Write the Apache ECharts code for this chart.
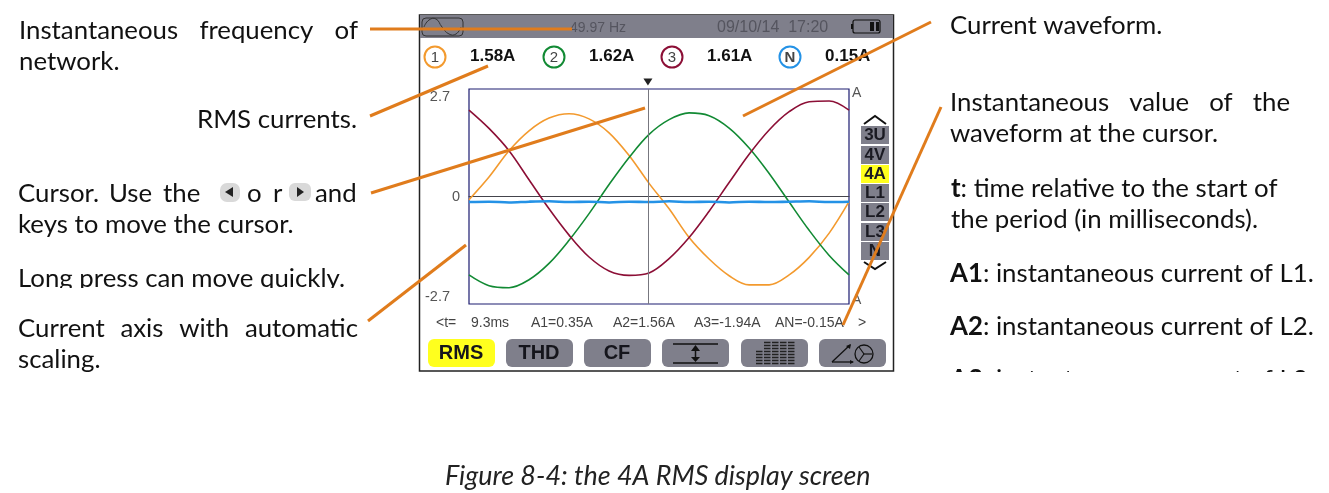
<!DOCTYPE html>
<html>
<head>
<meta charset="utf-8">
<style>html,body{margin:0;padding:0;background:#fff}#chart{width:1329px;height:493px}</style>
<script src="https://cdn.jsdelivr.net/npm/echarts@6/dist/echarts.min.js"></script>
</head>
<body>
<div id="chart"></div>
<script>
var times = [0, 1.04, 2.08, 3.12, 4.16, 5.2, 6.24, 7.28, 8.32, 9.36, 10.4, 11.44, 12.48, 13.52, 14.56, 15.6, 16.64, 17.68, 18.72, 19.75];
var currentL1 = [-0.08, 0.49, 1.15, 1.65, 1.97, 2.08, 1.95, 1.6, 1.03, 0.33, -0.31, -1.03, -1.57, -1.99, -2.22, -2.22, -1.97, -1.53, -0.92, -0.13];
var currentL2 = [-1.97, -2.24, -2.29, -2.09, -1.68, -1.1, -0.43, 0.3, 0.98, 1.56, 1.93, 2.1, 2.03, 1.72, 1.22, 0.58, -0.14, -0.85, -1.48, -1.97];
var currentL3 = [2.17, 1.71, 1.15, 0.42, -0.31, -0.97, -1.52, -1.87, -1.98, -1.92, -1.56, -1.03, -0.37, 0.35, 1.06, 1.67, 2.13, 2.38, 2.4, 2.17];
var currentN = [-0.14, -0.13, -0.15, -0.13, -0.12, -0.14, -0.13, -0.15, -0.13, -0.14, -0.12, -0.14, -0.13, -0.15, -0.13, -0.14, -0.13, -0.12, -0.14, -0.13];

var cursorTime = 9.3;
var rmsLabels = ["1", "2", "3", "N"];
var rmsValues = ["1.58A", "1.62A", "1.61A", "0.15A"];
var rmsColors = ["#f39a2e", "#128a34", "#8c0f36", "#2492e6"];
var cursorTexts = ["<t=", "9.3ms", "A1=0.35A", "A2=1.56A", "A3=-1.94A", "AN=-0.15A", ">"];
var sideLabels = ["3U", "4V", "4A", "L1", "L2", "L3", "N"];
var buttonLabels = ["RMS", "THD", "CF", "", "", ""];

var SCREEN_FONT = '"Liberation Sans", Arial, sans-serif';
var DOC_FONT = 'Lato, "Noto Sans", sans-serif';
var DOC_SIZE = 25.8;
var LEADER = "#e07c1c";
var GREY = "#7f7f8b";

var els = [];

function txt(x, y, s, o) {
  o = o || {};
  els.push({
    type: "text", x: x, y: o.family ? y : y + 1, z: o.z || 50,
    style: {
      text: s, fill: o.color || "#111", align: o.align || "left", verticalAlign: "middle",
      font: (o.style || "") + " " + (o.weight || "") + " " + (o.size || DOC_SIZE) + "px " + (o.family || DOC_FONT),
      rich: o.rich
    }
  });
}
function seg(x1, y1, x2, y2, color, width, z) {
  els.push({
    type: "line", z: z || 50, shape: { x1: x1, y1: y1, x2: x2, y2: y2 },
    style: { stroke: color, lineWidth: width }
  });
}
function box(x, y, w, h, fill, r, z) {
  els.push({
    type: "rect", z: z || 5, shape: { x: x, y: y, width: w, height: h, r: r || 0 },
    style: { fill: fill }
  });
}
function poly(points, fill, z) {
  els.push({ type: "polygon", z: z || 50, shape: { points: points }, style: { fill: fill } });
}
function chevron(cx, y, dy) {
  els.push({
    type: "polyline", z: 50, shape: { points: [[cx - 11, y], [cx, y + dy], [cx + 11, y]] },
    style: { stroke: "#111", lineWidth: 2, fill: "none" }
  });
}
// spread the words of a justified line between x0 and x1
function justify(words, x0, x1, y) {
  var ctx = document.createElement("canvas").getContext("2d");
  ctx.font = DOC_SIZE + "px Lato";
  var total = 0;
  words.forEach(function (w) { total += ctx.measureText(w).width; });
  var gap = (x1 - x0 - total) / (words.length - 1);
  var x = x0;
  words.forEach(function (w) {
    txt(x, y, w);
    x += ctx.measureText(w).width + gap;
  });
}

// instrument frame
els.push({
  type: "rect", z: 4, shape: { x: 419.5, y: 15, width: 474, height: 356 },
  style: { fill: "none", stroke: "#222", lineWidth: 1.5 }
});
box(420, 15, 473, 23, GREY);
els.push({
  type: "rect", z: 6, shape: { x: 422, y: 18, width: 41, height: 18, r: 4 },
  style: { fill: "none", stroke: "#333", lineWidth: 1 }
});
els.push({
  type: "polyline", z: 6,
  shape: { points: [[424, 27], [429, 20], [436, 19], [442, 27], [449, 34], [456, 34], [461, 27]], smooth: 0.5 },
  style: { fill: "none", stroke: "#333", lineWidth: 1 }
});
txt(570, 28, "49.97 Hz", { size: 14, color: "#55555f", family: SCREEN_FONT });
txt(717, 28, "09/10/14  17:20", { size: 16, color: "#55555f", family: SCREEN_FONT });
els.push({
  type: "rect", z: 6, shape: { x: 853, y: 20, width: 27, height: 13, r: 2 },
  style: { fill: "none", stroke: "#111", lineWidth: 1.2 }
});
box(851, 24, 2, 5, "#111", 0, 6);
box(870, 22, 4, 9, "#111", 0, 6);
box(876, 22, 3, 9, "#111", 0, 6);

// RMS readout row
var rmsCircleX = [435, 554, 672, 790];
var rmsTextX = [470, 589, 707, 825];
rmsLabels.forEach(function (lab, i) {
  els.push({
    type: "circle", z: 6, shape: { cx: rmsCircleX[i], cy: 57, r: 10.5 },
    style: { fill: "none", stroke: rmsColors[i], lineWidth: 2 }
  });
  txt(rmsCircleX[i], 58, lab, { size: 15, color: "#444", family: SCREEN_FONT, align: "center", weight: i == 3 ? "bold" : "" });
  txt(rmsTextX[i], 56, rmsValues[i], { size: 17, weight: "bold", family: SCREEN_FONT });
});

txt(852, 93, "A", { size: 14, color: "#555", family: SCREEN_FONT });
txt(852, 300, "A", { size: 14, color: "#555", family: SCREEN_FONT });

// side menu
var sideY = [126, 146, 165, 184, 203, 223, 242];
sideLabels.forEach(function (lab, i) {
  var active = lab == "4A";
  box(861, sideY[i], 28, 18, active ? "#ffff1e" : GREY);
  txt(875, sideY[i] + 9.5, lab, { size: 17, weight: "bold", family: SCREEN_FONT, align: "center", color: "#1a1a22" });
});
chevron(875, 124, -8);
chevron(875, 262, 7);

// cursor readout row
var cursorX = [436, 471, 531, 613, 694, 775, 858];
cursorTexts.forEach(function (s, i) {
  txt(cursorX[i], 323, s, { size: 14, color: "#444", family: SCREEN_FONT });
});

// soft buttons
var buttonX = [428, 506, 584, 662, 741, 819];
buttonLabels.forEach(function (lab, i) {
  box(buttonX[i], 339, 67, 28, i == 0 ? "#ffff1e" : GREY, 6);
  if (lab) txt(buttonX[i] + 33, 353.5, lab, { size: 20, weight: "bold", family: SCREEN_FONT, align: "center", color: "#15151c" });
});
seg(673, 344, 718, 344, "#111", 1.5);
seg(673, 363, 718, 363, "#111", 1.5);
seg(695.5, 347, 695.5, 360, "#111", 1.5);
poly([[691, 351], [700, 351], [695.5, 345]], "#111");
poly([[691, 357], [700, 357], [695.5, 362]], "#111");
for (var row = 0; row < 8; row++) {
  var rowY = 342.5 + row * 3;
  for (var c = 0; c < 5; c++) {
    var dashX = 756 + c * 8;
    if (row < 3 && c == 0) continue;
    seg(dashX, rowY, dashX + 6.5, rowY, "#222", 1.5);
  }
}
seg(832, 362, 850, 345, "#111", 1.3);
seg(832, 362, 853, 362, "#111", 1.3);
poly([[846, 346], [851, 344], [850, 349]], "#111");
poly([[850, 360], [854, 362], [850, 364]], "#111");
els.push({
  type: "circle", z: 50, shape: { cx: 864, cy: 354, r: 9 },
  style: { fill: "none", stroke: "#111", lineWidth: 1.3 }
});
seg(864, 354, 872, 354, "#111", 1.2);
seg(864, 354, 859, 347, "#111", 1.2);
seg(864, 354, 859, 361, "#111", 1.2);

// left hand notes
justify(["Instantaneous", "frequency", "of"], 19, 358, 30);
txt(19, 61, "network.");
txt(197, 119, "RMS currents.");
txt(18, 193, "Cursor.");
txt(109, 193, "Use");
txt(163, 193, "the");
txt(247, 193, "o");
txt(273, 193, "r");
txt(315, 193, "and");
box(220, 183, 20, 19, "#d9d9d9", 7, 50);
poly([[225, 192], [233, 187], [233, 197]], "#222", 51);
box(289, 183, 22, 18, "#d9d9d9", 6, 50);
poly([[304, 192], [297, 187], [297, 197]], "#222", 51);
txt(18, 224, "keys to move the cursor.");
txt(18, 278, "Long press can move quickly.");
box(0, 288, 362, 12, "#fff", 0, 60);
justify(["Current", "axis", "with", "automatic"], 18, 358, 328);
txt(18, 359, "scaling.");

// right hand notes
var boldRich = { b: { fontWeight: "bold", fontSize: DOC_SIZE, fontFamily: "Lato", fill: "#111" } };
txt(950, 25, "Current waveform.");
justify(["Instantaneous", "value", "of", "the"], 950, 1290, 102);
txt(950, 133, "waveform at the cursor.");
txt(951, 188, "{b|t}: time relative to the start of", { rich: boldRich });
txt(951, 219, "the period (in milliseconds).");
txt(950, 273, "{b|A1}: instantaneous current of L1.", { rich: boldRich });
txt(950, 326, "{b|A2}: instantaneous current of L2.", { rich: boldRich });
txt(950, 379, "{b|A3}: instantaneous current of L3.", { rich: boldRich });
box(930, 372, 399, 30, "#fff", 0, 60);

txt(445, 475, "Figure 8-4: the 4A RMS display screen", { style: "italic", color: "#222", size: 26.9 });

// leader lines on top of everything
seg(370, 29, 572, 29, LEADER, 3, 80);
seg(370, 116, 488, 66, LEADER, 3, 80);
seg(371, 193, 645, 108, LEADER, 3, 80);
seg(368, 321, 466, 245, LEADER, 3, 80);
seg(931, 22, 743, 116, LEADER, 3, 80);
seg(941, 107, 843, 325, LEADER, 3, 80);

function toPairs(values) {
  return values.map(function (v, i) { return [times[i], v]; });
}
function wave(name, values, color, width) {
  return {
    name: name, type: "line", data: toPairs(values), smooth: 0.35, symbol: "none",
    lineStyle: { color: color, width: width }, silent: true, animation: false
  };
}

var chartDom = document.getElementById("chart");
var myChart = echarts.init(chartDom, null, { renderer: "canvas" });

var series = [
  wave("L1", currentL1, rmsColors[0], 1.6),
  wave("L2", currentL2, rmsColors[1], 1.6),
  wave("L3", currentL3, rmsColors[2], 1.6),
  wave("N", currentN, rmsColors[3], 2.6)
];
// cursor
series[0].clip = false;
series[0].markLine = {
  silent: true, symbol: "none", animation: false, label: { show: false },
  lineStyle: { color: "#77777f", type: "solid", width: 1 },
  data: [{ xAxis: cursorTime }]
};
series[0].markPoint = {
  silent: true, animation: false, symbol: "triangle", symbolSize: [9, 7], symbolRotate: 180,
  symbolOffset: [0, -7], itemStyle: { color: "#222" }, label: { show: false },
  data: [{ coord: [cursorTime, 2.7] }]
};

var option = {
  backgroundColor: "#fff",
  animation: false,
  grid: {
    left: 469, top: 89, width: 380, height: 215, show: true,
    borderColor: "#1c1c70", borderWidth: 1.2, backgroundColor: "transparent"
  },
  xAxis: {
    type: "value", min: 0, max: 19.75,
    axisLine: { show: true, onZero: true, lineStyle: { color: "#44444c", width: 1.2 } },
    axisTick: { show: false }, axisLabel: { show: false }, splitLine: { show: false }
  },
  yAxis: {
    type: "value", min: -2.7, max: 2.7, interval: 2.7,
    axisLine: { show: false }, axisTick: { show: false }, splitLine: { show: false },
    axisLabel: {
      color: "#555", fontSize: 14.5, fontFamily: SCREEN_FONT, margin: 9,
      verticalAlignMaxLabel: "top", verticalAlignMinLabel: "bottom",
      rich: { e: { color: "#555", fontSize: 14.5, fontFamily: SCREEN_FONT, padding: [0, 10, 0, 0] } },
      formatter: function (v) { return v == 0 ? "0" : "{e|" + v.toFixed(1) + "}"; }
    }
  },
  series: series,
  graphic: { elements: els }
};

window.addEventListener("resize", function () {
  myChart.resize();
});
myChart.setOption(option);
</script>
</body>
</html>
